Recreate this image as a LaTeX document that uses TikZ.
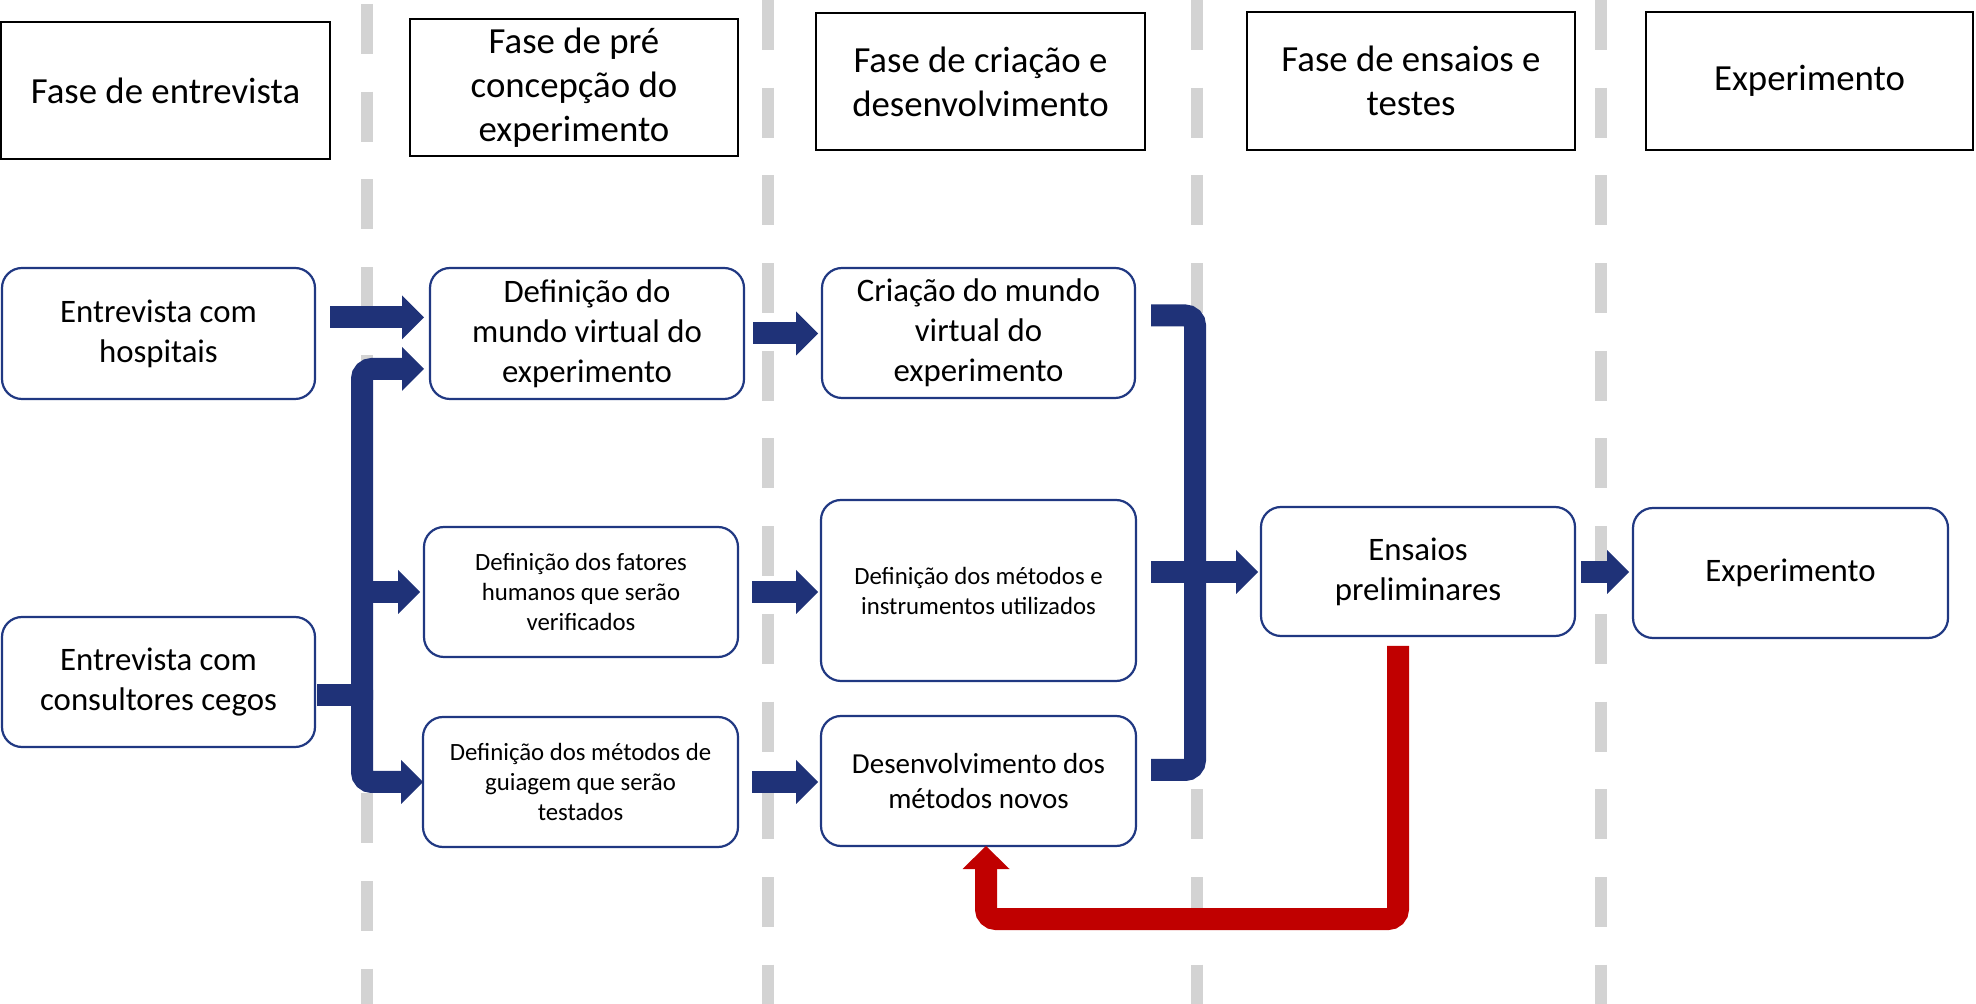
\documentclass[tikz,border=0pt]{standalone}
\usepackage{fontspec}
\setmainfont{Carlito}
\usetikzlibrary{arrows.meta,calc}
\definecolor{navy}{RGB}{31,50,120}
\definecolor{boxblue}{RGB}{32,56,130}
\definecolor{dashgray}{RGB}{211,211,211}
\definecolor{redarr}{RGB}{192,0,0}
\tikzset{
  hdr/.style={draw=black, line width=1.2pt, fill=white, align=center, inner sep=0pt, outer sep=0pt,
    font=\fontsize{18.4}{22}\selectfont},
  rbox/.style={draw=boxblue, line width=1.1pt, rounded corners=10pt, fill=white, align=center,
    inner sep=0pt, outer sep=0pt, font=\fontsize{16.4}{20}\selectfont},
  smalltxt/.style={font=\fontsize{12.4}{15}\selectfont},
  midtxt/.style={font=\fontsize{14.5}{17.8}\selectfont},
  sep/.style={draw=dashgray, line width=6pt, dash pattern=on 25pt off 18.85pt},
  navyline/.style={draw=navy, line width=11pt, line cap=butt},
  navyarrow/.style={navyline, -{Triangle[length=11pt,width=22pt,line width=0pt]}},
  redarrow/.style={draw=redarr, line width=11pt, line cap=butt, -{Triangle[length=11.5pt,width=23.5pt,line width=0pt]}}
}
\begin{document}
\begin{tikzpicture}[x=0.5pt,y=-0.5pt]
\useasboundingbox (0,0) rectangle (1976,1004);
% separators
\draw[sep] (367,4) -- (367,1004);
\draw[sep] (768,0) -- (768,1004);
\draw[sep] (1197,0) -- (1197,1004);
\draw[sep] (1601,0) -- (1601,1004);
% headers
\node[hdr, minimum width=164.5pt, minimum height=68.5pt] (H1) at (165.5,90.5) {Fase de entrevista};
\node[hdr, minimum width=164pt, minimum height=68.5pt] (H2) at (574,87.5) {Fase de pré\\concepção do\\experimento};
\node[hdr, minimum width=164.5pt, minimum height=68.5pt] (H3) at (980.5,81.5) {Fase de criação e\\desenvolvimento};
\node[hdr, minimum width=164pt, minimum height=69pt] (H4) at (1411,81) {Fase de ensaios e\\testes};
\node[hdr, minimum width=163.5pt, minimum height=69pt] (H5) at (1809.5,81) {Experimento};
% boxes
\node[rbox, minimum width=156.5pt, minimum height=65.5pt] (B1) at (158.5,333.5) {Entrevista com\\hospitais};
\node[rbox, minimum width=157pt, minimum height=65.5pt] (B2) at (587,333.5) {Definição do\\mundo virtual do\\experimento};
\node[rbox, minimum width=156.5pt, minimum height=65pt] (B3) at (978.5,333) {Criação do mundo\\virtual do\\experimento};
\node[rbox, smalltxt, minimum width=157pt, minimum height=65pt] (B4) at (581,592) {Definição dos fatores\\humanos que serão\\verificados};
\node[rbox, smalltxt, minimum width=157.5pt, minimum height=90.5pt] (B5) at (978.5,590.5) {Definição dos métodos e\\instrumentos utilizados};
\node[rbox, minimum width=157pt, minimum height=64.5pt] (B6) at (1418,571.5) {Ensaios\\preliminares};
\node[rbox, minimum width=157.5pt, minimum height=65pt] (B7) at (1790.5,573) {Experimento};
\node[rbox, minimum width=156.5pt, minimum height=65pt] (B8) at (158.5,682) {Entrevista com\\consultores cegos};
\node[rbox, smalltxt, minimum width=157.5pt, minimum height=65pt] (B9) at (580.5,782) {Definição dos métodos de\\guiagem que serão\\testados};
\node[rbox, midtxt, minimum width=157.5pt, minimum height=65pt] (B10) at (978.5,781) {Desenvolvimento dos\\métodos novos};
% junction coordinates
\coordinate (J) at (362,695);
\coordinate (K) at (1195,572);
% left connectors
\draw[navyarrow] ($(B1.east)+(15,-16)$) -- ($(B2.west)+(-6,-16)$);
\draw[navyline] ($(B8.east)+(2,13)$) -- (J);
\draw[navyarrow, rounded corners=5pt] ($(J)+(0,5)$) |- ($(B2.west)+(-6,35.5)$);
\draw[navyarrow, rounded corners=5pt] ($(J)+(0,-5)$) |- (B9.west);
\draw[navyarrow] (J |- B4.west) -- ($(B4.west)+(-4,0)$);
% middle connectors
\draw[navyarrow] ($(B2.east)+(9,0)$) -- ++(65,0);
\draw[navyarrow] ($(B4.east)+(14,0)$) -- ++(66,0);
\draw[navyarrow] ($(B9.east)+(14,0)$) -- ++(66,0);
% right bracket
\draw[navyline, rounded corners=5pt] ($(B3.east)+(16,-17.5)$) -| (K) |- ($(B10.east)+(15,-11)$);
\draw[navyarrow] ($(B5.east)+(15,-18.5)$) -- ($(K -| B6.west)+(-3,0)$);
\draw[navyarrow] ($(B6.east)+(6,0.5)$) -- ++(48,0);
% feedback
\draw[redarrow, rounded corners=5pt] ($(B6.south)+(-20,10)$) |- ($(B10.south)+(7.5,73)$) -- ($(B10.south)+(7.5,0)$);
\end{tikzpicture}
\end{document}
